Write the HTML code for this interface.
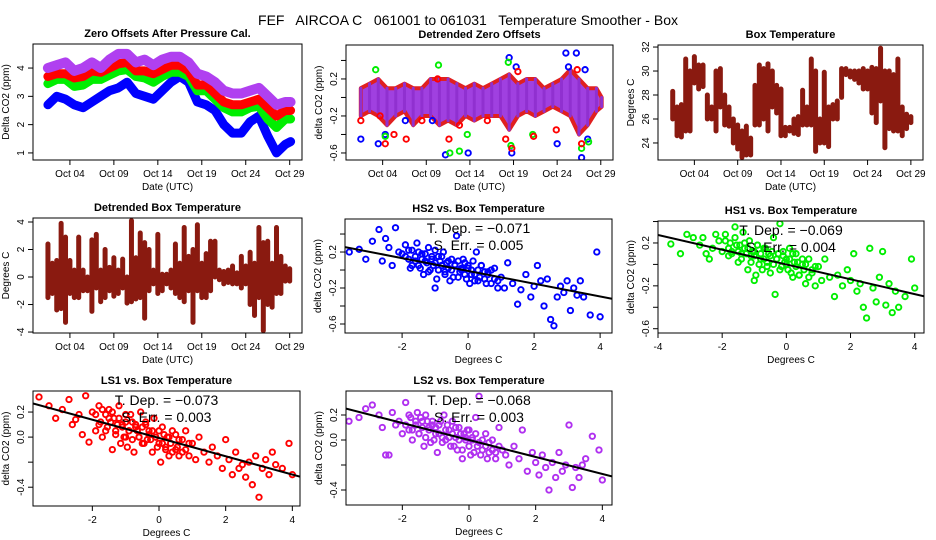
<!DOCTYPE html>
<html><head><meta charset="utf-8">
<style>
html,body{margin:0;padding:0;background:#fff;}
svg{display:block;font-family:"Liberation Sans",sans-serif;}
</style></head>
<body>
<svg id="fig" width="936" height="540" viewBox="0 0 936 540">
<rect width="936" height="540" fill="#fff"/>
<text x="468" y="25" text-anchor="middle" font-size="14" xml:space="preserve">FEF   AIRCOA C   061001 to 061031   Temperature Smoother - Box</text>
</svg>
<script>
// ---------- data ----------
const zeroDays = [1.5,2.5,3.5,4.5,5.5,6.5,7.5,8.5,9.5,10.5,11.5,12.5,13.5,14.5,15.5,16.5,17.5,18.5,19.5,20.5,21.5,22.5,23.5,24.5,25.5,26.5,27.5,28.5,29.1];
const zeroLS2 = [4.0,4.1,4.2,3.9,4.0,4.2,4.0,4.3,4.5,4.5,4.2,4.3,4.1,4.3,4.4,4.4,4.2,3.8,3.7,3.5,3.2,3.1,3.1,3.2,3.3,3.0,2.7,2.8,2.8];
const zeroLS1 = [3.7,3.8,3.8,3.65,3.7,3.9,3.85,4.0,4.15,4.2,3.9,3.9,3.8,3.95,4.1,4.1,3.9,3.4,3.4,3.1,2.8,2.7,2.7,2.8,2.9,2.6,2.3,2.5,2.5];
const zeroHS1 = [3.45,3.6,3.6,3.35,3.4,3.6,3.6,3.75,3.9,3.95,3.7,3.65,3.5,3.7,3.85,3.85,3.7,3.2,3.2,2.9,2.6,2.45,2.45,2.6,2.65,2.2,1.9,2.2,2.2];
const zeroHS2 = [2.7,3.0,2.9,2.7,2.6,2.8,3.0,3.2,3.3,3.5,3.1,3.0,2.9,3.2,3.5,3.7,3.5,2.8,2.7,2.5,2.0,1.7,1.7,2.1,2.3,1.6,1.0,1.3,1.4];

const detLo = [-0.2,-0.15,-0.2,-0.3,-0.2,-0.15,-0.3,-0.2,-0.2,-0.3,-0.25,-0.3,-0.2,-0.25,-0.2,-0.2,-0.2,-0.35,-0.2,-0.15,-0.2,-0.15,-0.1,-0.15,-0.2,-0.4,-0.3,-0.15,-0.1];
const detHi = [0.1,0.15,0.2,0.1,0.1,0.15,0.1,0.1,0.2,0.2,0.2,0.15,0.1,0.15,0.1,0.15,0.2,0.25,0.15,0.2,0.2,0.1,0.15,0.2,0.3,0.2,0.1,0.1,0.0];
const outBlueDay = [1.5,3.5,4.3,9.7,11.2,13.8,18.5,18.8,19.3,24,25,25.3,26.2,26.8,27.2,27.5,6.6];
const outBlueVal = [-0.45,-0.5,-0.4,-0.25,-0.62,-0.6,0.43,-0.6,0.33,-0.5,0.48,0.33,0.48,-0.65,0.3,-0.45,-0.25];
const outGreenDay = [3.2,4.3,10.4,11.7,12.8,13.7,18.4,18.7,21.2,26.8,27.6];
const outGreenVal = [0.3,-0.42,0.35,-0.6,-0.58,-0.4,0.38,-0.52,-0.4,-0.55,-0.48];
const outRedDay = [1.5,3.7,4.3,5.3,6.7,8.5,10.3,11.6,12.8,16,18.1,18.8,19.5,21.3,23.9,26.8,26.3];
const outRedVal = [-0.25,-0.2,-0.5,-0.4,-0.45,-0.25,0.2,-0.45,-0.3,-0.25,-0.45,-0.55,0.28,-0.42,-0.35,-0.5,0.3];

const tDays = [1.5,2,2.5,3,3.5,4,4.5,5,5.5,6,6.5,7,7.5,8,8.5,9,9.5,10,10.5,11,11.5,12,12.5,13,13.5,14,14.5,15,15.5,16,16.5,17,17.5,18,18.5,19,19.5,20,20.5,21,21.5,22,22.5,23,23.5,24,24.5,25,25.5,26,26.5,27,27.5,28,28.5,29];
const boxLo = [26,24.6,24.5,25,25,29,28.5,28.7,26,26,25,27,25.5,25.4,24,23.5,22.8,23,23,25.5,25.5,26,25,27,26.5,24.6,24.6,25,24.8,24.7,25.5,25.5,25.5,23.3,24,24,23.7,26,26,27.8,29.7,29.5,29.3,29,28.5,28.5,26.5,25.7,27.5,23.6,25.2,25,25,24.6,25.2,25.7];
const boxHi = [28.3,27,27.2,31,30,31.2,30.5,30.5,28,27,30,30.2,28,27,26,25.5,25,25.4,24.4,28.8,30.5,30.2,30.6,30,28.8,28.5,25.3,25.3,26,26.2,28.4,27,31,30,26,29.9,27,27.2,27.5,30.2,30.2,30,30,30,30.2,30,30.3,30.2,31.9,30,30,29.7,31,27,26.4,26.2];
const dboxLo = [-1.5,-1.2,-2.4,-2.3,-3.3,-1.2,-1.5,-1.5,-1.0,-1.0,-2.5,-0.8,-1.8,-1.5,-1.0,-1.4,-1.2,-0.8,-1.9,-1.8,-1.6,-1.5,-3.0,-1.0,-0.5,-1.2,-1.0,-0.5,-0.8,-1.2,-1.5,-1.8,-1.0,-3.3,-1.0,-1.5,-1.5,-1.0,0,-0.2,-0.5,-0.4,-0.5,-0.5,-0.8,-0.5,-2.0,-2.8,-1.5,-3.9,-2.0,-2.2,-1.2,-1.2,-0.3,-0.3];
const dboxHi = [2.4,1.0,1.2,3.9,2.9,1.2,0.5,2.9,0.5,0,2.7,3.1,0.5,2.0,0.7,1.4,0.5,1.3,0,4.1,1.4,3.2,2.5,2.0,0.5,3.1,0.2,0.2,0.5,2.4,1.0,3.6,1.5,2.0,3.8,1.0,1.7,2.6,2.6,0.5,0.4,0.5,0.8,0.3,1.5,0.8,1.8,1.0,3.6,2.5,2.6,1.0,3.6,1.5,0.8,0.6];

const tempX = [-3.6,-3.3,-3.1,-2.9,-2.7,-2.6,-2.4,-2.3,-2.2,-2.1,-2.0,-1.9,-1.8,-1.75,-1.7,-1.6,-1.55,-1.5,-1.4,-1.35,-1.3,-1.2,-1.15,-1.1,-1.0,-0.95,-0.9,-0.8,-0.75,-0.7,-0.6,-0.55,-0.5,-0.4,-0.35,-0.3,-0.2,-0.15,-0.1,0.0,0.05,0.1,0.2,0.25,0.3,0.4,0.5,0.6,0.7,0.8,0.9,1.0,1.1,1.2,1.35,1.5,1.6,1.75,1.9,2.0,2.1,2.2,2.3,2.4,2.5,2.6,2.7,2.8,2.9,3.0,3.1,3.2,3.3,3.4,3.5,3.7,3.9,4.0,-2.5,-1.0,
  -1.9,-1.8,-1.7,-1.6,-1.5,-1.45,-1.4,-1.3,-1.25,-1.2,-1.1,-1.05,-1.0,-0.9,-0.85,-0.8,-0.7,-0.65,-0.6,-0.5,-0.45,-0.4,-0.3,-0.25,-0.2,-0.1,-0.05,0.0,0.1,0.15,0.2,0.3,0.35,0.4,0.5,0.55,0.6,0.7,0.8,0.9];
const hs2Y = [0.20,0.23,0.12,0.32,0.45,0.10,0.25,0.05,0.47,0.20,0.18,0.28,0.12,0.02,0.22,0.15,0.30,0.05,0.18,-0.05,0.10,0.25,0.00,0.12,0.08,-0.10,0.15,0.05,0.20,-0.02,0.10,-0.12,0.00,0.06,0.38,-0.08,0.02,0.12,-0.05,0.05,-0.15,0.00,-0.05,0.20,-0.12,0.05,-0.10,-0.02,-0.15,0.02,-0.20,-0.08,-0.20,0.08,-0.15,-0.38,-0.22,-0.05,-0.30,-0.18,0.05,-0.12,-0.40,-0.10,-0.55,-0.62,-0.30,-0.18,-0.25,-0.12,-0.45,-0.20,-0.28,-0.12,-0.30,-0.50,0.20,-0.52,0.35,-0.20,
  0.15,0.22,0.05,0.10,0.20,0.02,0.12,0.18,0.08,-0.02,0.15,0.05,0.22,0.00,0.10,0.15,-0.05,0.08,0.02,0.12,-0.08,0.05,0.10,-0.02,0.00,0.08,-0.10,0.02,-0.05,0.10,-0.12,0.00,-0.08,0.05,-0.02,-0.15,-0.05,0.00,-0.10,-0.12];
const hs1Y = [0.19,0.10,0.28,0.25,0.18,0.25,0.05,0.15,0.28,0.22,0.12,0.28,0.08,0.20,0.12,0.35,0.18,0.02,0.10,0.30,0.15,-0.05,0.22,0.08,0.12,-0.10,0.18,0.05,-0.05,0.15,0.02,0.10,-0.08,0.25,-0.28,0.05,0.38,-0.02,0.12,0.05,-0.05,0.15,-0.12,0.02,0.10,-0.10,0.00,-0.18,0.05,-0.08,-0.20,-0.02,-0.15,0.05,-0.12,-0.30,-0.10,-0.20,-0.05,-0.15,0.10,-0.25,-0.18,-0.40,-0.50,0.15,-0.22,-0.35,-0.12,0.12,-0.38,-0.18,-0.45,-0.25,-0.40,-0.30,0.05,-0.22,0.10,-0.15,
  0.22,0.15,0.10,0.25,0.12,0.18,0.05,0.20,0.10,0.15,0.02,0.12,0.08,0.18,0.00,0.10,0.05,0.15,-0.02,0.08,0.12,0.00,0.05,0.10,-0.05,0.08,0.02,0.00,0.05,-0.08,0.10,-0.02,0.02,-0.10,0.05,-0.05,0.00,-0.12,-0.05,-0.02];
const ls1Y = [0.32,0.25,0.15,0.22,0.30,0.10,0.18,0.02,0.33,-0.04,0.20,0.05,0.25,0.12,0.00,0.18,0.08,0.22,-0.10,0.15,0.05,0.25,-0.05,0.10,0.18,-0.08,0.05,0.12,-0.12,0.08,0.00,0.20,-0.05,0.10,-0.02,0.05,-0.12,0.15,0.00,-0.05,-0.20,0.08,-0.08,0.00,-0.15,0.05,-0.10,-0.02,-0.12,0.05,-0.15,-0.05,-0.18,0.00,-0.12,-0.20,-0.08,-0.15,-0.25,-0.02,-0.18,-0.30,-0.12,-0.25,-0.22,-0.32,-0.20,-0.38,-0.15,-0.48,-0.25,-0.18,-0.30,-0.12,-0.22,-0.25,-0.05,-0.30,0.14,0.00,
  0.18,0.10,0.22,0.05,0.15,0.12,0.20,0.02,0.10,0.15,0.08,0.00,0.12,0.05,0.18,-0.02,0.10,0.05,0.00,0.08,-0.05,0.12,0.02,-0.02,0.05,0.00,-0.08,0.05,-0.05,0.02,-0.10,0.00,-0.05,-0.12,0.02,-0.08,-0.15,-0.02,-0.10,-0.05];
const ls2Y = [0.15,0.18,0.25,0.28,0.20,0.10,-0.12,0.22,0.12,0.15,0.05,0.30,0.08,0.18,0.00,0.12,0.22,0.05,0.15,-0.05,0.20,0.10,-0.02,0.15,0.05,-0.10,0.12,0.02,0.20,0.00,0.08,-0.05,0.15,0.02,-0.08,0.10,-0.15,0.05,0.00,0.08,-0.12,0.02,0.18,-0.05,0.35,-0.08,0.05,-0.10,0.00,-0.15,0.10,-0.08,-0.12,-0.20,-0.05,-0.15,0.08,-0.25,-0.10,-0.18,-0.28,-0.12,-0.22,-0.40,-0.18,-0.30,-0.10,-0.25,-0.20,0.12,-0.38,-0.22,-0.30,-0.20,-0.15,0.03,-0.08,-0.32,-0.12,0.10,
  0.12,0.20,0.08,0.15,0.05,0.18,0.10,0.02,0.15,0.08,0.12,0.00,0.10,0.05,0.15,-0.02,0.08,0.12,0.02,0.05,-0.05,0.10,0.00,0.05,-0.08,0.02,0.08,-0.05,0.00,-0.10,0.05,-0.02,-0.12,0.00,-0.05,-0.15,-0.02,-0.08,-0.10,-0.05];
const fitInt = [-0.01,-0.001,-0.007,0.0];
const fitSlope = [-0.071,-0.069,-0.073,-0.068];
const fitErr = ["0.005","0.004","0.003","0.003"];

const dateTicks = [4,9,14,19,24,29];
const dateLabels = ["Oct 04","Oct 09","Oct 14","Oct 19","Oct 24","Oct 29"];

// ---------- helpers ----------
const NS = "http://www.w3.org/2000/svg";
const svg = document.getElementById("fig");
function el(tag, attrs, parent){
  const e = document.createElementNS(NS, tag);
  for (const k in attrs) e.setAttribute(k, attrs[k]);
  (parent||svg).appendChild(e);
  return e;
}
function makePanel(name, box, xd, yd){
  const g = el("g", {});
  
  
  const p = {g, box, xd, yd};
  p.x = v => box[0] + (v - xd[0]) / (xd[1] - xd[0]) * (box[2] - box[0]);
  p.y = v => box[3] - (v - yd[0]) / (yd[1] - yd[0]) * (box[3] - box[1]);
  const cid = name + "-clip";
  const cp = el("clipPath", {id: cid}, g);
  el("rect", {x: box[0], y: box[1], width: box[2]-box[0], height: box[3]-box[1]}, cp);
  p.plot = el("g", {"clip-path": "url(#" + cid + ")"}, g);
  return p;
}
function frame(p, title, xlab, ylab, xt, xl, yt, yl){
  const b = p.box, g = p.g;
  const r = el("rect", {x: b[0], y: b[1], width: b[2]-b[0], height: b[3]-b[1], fill: "none", stroke: "#000", "stroke-width": 1}, g);
  
  
  const t = el("text", {x: (b[0]+b[2])/2, y: b[1]-7, "text-anchor": "middle", "font-size": 11, "font-weight": "bold"}, g);
  t.textContent = title;
  
  
  el("line", {x1: p.x(xt[0]), x2: p.x(xt[xt.length-1]), y1: b[3], y2: b[3], stroke: "#000"}, g);
  xt.forEach((v,i) => {
    el("line", {x1: p.x(v), x2: p.x(v), y1: b[3], y2: b[3]+5, stroke: "#000"}, g);
    if (xl[i] !== "") {
      const tl = el("text", {x: p.x(v), y: b[3]+17, "text-anchor": "middle", "font-size": 10}, g);
      tl.textContent = xl[i];
      
      
    }
  });
  const xt2 = el("text", {x: (b[0]+b[2])/2, y: b[3]+30, "text-anchor": "middle", "font-size": 10}, g);
  xt2.textContent = xlab;
  
  
  el("line", {x1: b[0], x2: b[0], y1: p.y(yt[0]), y2: p.y(yt[yt.length-1]), stroke: "#000"}, g);
  yt.forEach((v,i) => {
    el("line", {x1: b[0]-5, x2: b[0], y1: p.y(v), y2: p.y(v), stroke: "#000"}, g);
    if (yl[i] !== "") {
      const X = b[0]-9, Y = p.y(v);
      const tl = el("text", {x: X, y: Y, "text-anchor": "middle", "font-size": 10, transform: "rotate(-90 " + X + " " + Y + ")"}, g);
      tl.textContent = yl[i];
      
      
    }
  });
  const X = b[0]-24, Y = (b[1]+b[3])/2;
  const yt2 = el("text", {x: X, y: Y, "text-anchor": "middle", "font-size": 10, transform: "rotate(-90 " + X + " " + Y + ")"}, g);
  yt2.textContent = ylab;
  
  
}
function band(p, xs, ys, color, w, name){
  const pts = xs.map((d,i) => p.x(d).toFixed(1) + "," + p.y(ys[i]).toFixed(1)).join(" ");
  const pl = el("polyline", {points: pts, fill: "none", stroke: color, "stroke-width": w, "stroke-linejoin": "round", "stroke-linecap": "round"}, p.plot);
  
  
}
function area(p, xs, lo, hi, fill, stroke, sw, name){
  const top = xs.map((d,i) => p.x(d).toFixed(1) + "," + p.y(hi[i]).toFixed(1));
  const bot = xs.map((d,i) => p.x(d).toFixed(1) + "," + p.y(lo[i]).toFixed(1)).reverse();
  const pg = el("polygon", {points: top.concat(bot).join(" "), fill: fill, stroke: stroke, "stroke-width": sw, "stroke-linejoin": "round"}, p.plot);
  
  
}
function bars(p, xs, lo, hi, color, w, name){
  xs.forEach((d,i) => {
    const l = el("line", {x1: p.x(d), x2: p.x(d), y1: p.y(lo[i]), y2: p.y(hi[i]), stroke: color, "stroke-width": w, "stroke-linecap": "round"}, p.plot);
    
    
  });
}
function points(p, xs, ys, color, name){
  xs.forEach((v,i) => {
    const c = el("circle", {cx: p.x(v), cy: p.y(ys[i]), r: 2.7, fill: "none", stroke: color, "stroke-width": 1.9}, p.plot);
    
    
  });
}

const timeX = [-0.2, 30.4];

// Panel 1
const p1 = makePanel("zero-offsets-panel", [33,44,302,160], timeX, [0.75,4.85]);
band(p1, zeroDays, zeroHS2, "#0000ff", 9, "series-hs2");
band(p1, zeroDays, zeroHS1, "#00ee00", 9, "series-hs1");
band(p1, zeroDays, zeroLS1, "#ff0000", 9, "series-ls1");
band(p1, zeroDays, zeroLS2, "#b040f0", 10, "series-ls2");
frame(p1, "Zero Offsets After Pressure Cal.", "Date (UTC)", "Delta CO2 (ppm)", dateTicks, dateLabels, [1,2,3,4], ["1","2","3","4"]);

// Panel 2
const p2 = makePanel("detrended-zero-offsets-panel", [346,45,613,160], timeX, [-0.676,0.567]);
area(p2, zeroDays, detLo, detHi, "#a040e0", "#e02020", 4, "detrended-band");
bars(p2, zeroDays, detLo, detHi, "#9030d0", 3, "detrended-spread");
points(p2, outBlueDay, outBlueVal, "#0000ff", "outlier-hs2");
points(p2, outGreenDay, outGreenVal, "#00ee00", "outlier-hs1");
points(p2, outRedDay, outRedVal, "#ff0000", "outlier-ls1");
frame(p2, "Detrended Zero Offsets", "Date (UTC)", "delta CO2 (ppm)", dateTicks, dateLabels, [-0.6,-0.4,-0.2,0,0.2,0.4], ["-0.6","","-0.2","","0.2",""]);

// Panel 3
const p3 = makePanel("box-temperature-panel", [658,45,923,160], timeX, [22.58,32.17]);
bars(p3, tDays, boxLo, boxHi, "#8a1a10", 5, "box-temp-mark");
frame(p3, "Box Temperature", "Date (UTC)", "Degrees C", dateTicks, dateLabels, [24,26,28,30,32], ["24","26","28","30","32"]);

// Panel 4
const p4 = makePanel("detrended-box-temperature-panel", [33,218,302,333], timeX, [-4.07,4.29]);
bars(p4, tDays, dboxLo, dboxHi, "#8a1a10", 5, "detrended-temp-mark");
frame(p4, "Detrended Box Temperature", "Date (UTC)", "Degrees C", dateTicks, dateLabels, [-4,-2,0,2,4], ["-4","-2","0","2","4"]);

// Scatter panels
const scat = [
  {name:"hs2-scatter-panel", title:"HS2 vs. Box Temperature", box:[345,219,612,333], xd:[-3.73,4.36], yd:[-0.7,0.567], ys:hs2Y, col:"#0000ff",
   xt:[-2,0,2,4], xl:["-2","0","2","4"], yt:[-0.6,-0.4,-0.2,0,0.2,0.4], yl:["-0.6","","-0.2","","0.2",""]},
  {name:"hs1-scatter-panel", title:"HS1 vs. Box Temperature", box:[658,221,924,333], xd:[-4,4.29], yd:[-0.64,0.405], ys:hs1Y, col:"#00ee00",
   xt:[-4,-2,0,2,4], xl:["-4","-2","0","2","4"], yt:[-0.6,-0.4,-0.2,0,0.2,0.4], yl:["-0.6","","-0.2","","0.2",""]},
  {name:"ls1-scatter-panel", title:"LS1 vs. Box Temperature", box:[33,391,300,506], xd:[-3.78,4.23], yd:[-0.55,0.368], ys:ls1Y, col:"#ff0000",
   xt:[-2,0,2,4], xl:["-2","0","2","4"], yt:[-0.4,-0.2,0,0.2], yl:["-0.4","","0.0","0.2"]},
  {name:"ls2-scatter-panel", title:"LS2 vs. Box Temperature", box:[346,391,612,505], xd:[-3.69,4.29], yd:[-0.52,0.392], ys:ls2Y, col:"#b030f0",
   xt:[-2,0,2,4], xl:["-2","0","2","4"], yt:[-0.4,-0.2,0,0.2], yl:["-0.4","","0.0","0.2"]}
];
scat.forEach((s, k) => {
  const p = makePanel(s.name, s.box, s.xd, s.yd);
  points(p, tempX, s.ys, s.col, "scatter-point");
  const fl = el("line", {x1: p.x(s.xd[0]), y1: p.y(fitInt[k] + fitSlope[k]*s.xd[0]), x2: p.x(s.xd[1]), y2: p.y(fitInt[k] + fitSlope[k]*s.xd[1]), stroke: "#000", "stroke-width": 2}, p.plot);
  
  
  const cx = (s.box[0]+s.box[2])/2;
  const t1 = el("text", {x: cx, y: s.box[1]+14, "text-anchor": "middle", "font-size": 14, "xml:space": "preserve"}, p.g);
  t1.textContent = "T. Dep. =  " + fitSlope[k].toFixed(3).replace("-", "\u2212");
  
  
  const t2 = el("text", {x: cx, y: s.box[1]+31, "text-anchor": "middle", "font-size": 14, "xml:space": "preserve"}, p.g);
  t2.textContent = "S. Err. =  " + fitErr[k];
  
  
  frame(p, s.title, "Degrees C", "delta CO2 (ppm)", s.xt, s.xl, s.yt, s.yl);
});
</script>
</body></html>
